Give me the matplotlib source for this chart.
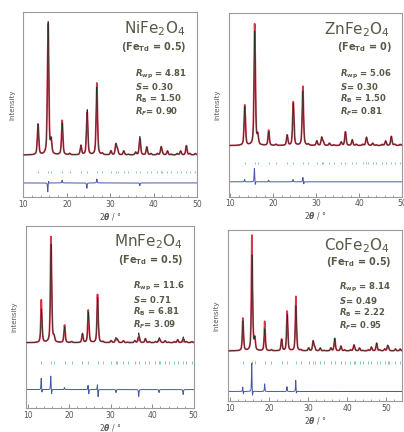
import matplotlib
matplotlib.use('Agg')
import matplotlib.pyplot as plt
import numpy as np
from matplotlib.ticker import MultipleLocator

plt.rcParams['font.family'] = ['DejaVu Sans']
plt.rcParams['mathtext.fontset'] = 'custom'
plt.rcParams['mathtext.default'] = 'regular'
plt.rcParams['mathtext.rm'] = 'DejaVu Sans:bold'
plt.rcParams['mathtext.it'] = 'DejaVu Sans:italic:bold'
plt.rcParams['mathtext.bf'] = 'DejaVu Sans:bold'

# Bragg reflection positions of the spinel phase (2theta / deg)
bragg_pos = [13.36, 15.68, 16.38, 18.93, 20.65, 23.24, 24.67, 26.90, 28.16, 30.15,
             31.29, 31.66, 33.10, 34.15, 35.84, 36.82, 38.41, 39.34, 40.84, 41.72,
             42.01, 43.16, 44.00, 45.38, 46.19, 47.52, 48.30, 49.58, 50.35, 50.60,
             52.33, 53.55]

# calculated peak heights (relative to the strongest reflection)
ni_calc = [0.23, 1.0, 0.10, 0.24, 0.01, 0.07, 0.34, 0.51, 0.01, 0.03,
           0.08, 0.04, 0.03, 0.005, 0.02, 0.14, 0.06, 0.01, 0.01, 0.06,
           0.01, 0.03, 0.005, 0.01, 0.03, 0.07, 0.01, 0.01, 0.01, 0.01,
           0.02, 0.02]
zn_calc = [0.34, 1.0, 0.08, 0.12, 0.01, 0.09, 0.37, 0.48, 0.01, 0.04,
           0.07, 0.03, 0.02, 0.005, 0.03, 0.12, 0.05, 0.01, 0.01, 0.07,
           0.01, 0.02, 0.005, 0.01, 0.04, 0.08, 0.01, 0.01, 0.01, 0.01,
           0.02, 0.02]
mn_calc = [0.34, 1.0, 0.05, 0.16, 0.01, 0.09, 0.31, 0.46, 0.01, 0.02,
           0.05, 0.03, 0.02, 0.005, 0.02, 0.10, 0.04, 0.01, 0.01, 0.05,
           0.01, 0.02, 0.005, 0.01, 0.03, 0.06, 0.01, 0.01, 0.01, 0.01,
           0.02, 0.02]
co_calc = [0.31, 1.0, 0.12, 0.23, 0.01, 0.12, 0.38, 0.47, 0.01, 0.03,
           0.10, 0.04, 0.03, 0.005, 0.03, 0.13, 0.05, 0.01, 0.01, 0.06,
           0.01, 0.03, 0.005, 0.01, 0.04, 0.08, 0.01, 0.02, 0.05, 0.02,
           0.02, 0.02]

# observed - calculated features (position, amplitude)
ni_diff_pos = [15.60, 15.75, 18.90, 24.60, 26.90, 36.80]
ni_diff_amp = [-0.07, 0.02, 0.02, -0.04, 0.03, -0.02]
zn_diff_pos = [13.30, 15.60, 15.80, 18.90, 24.60, 26.90, 27.10]
zn_diff_amp = [0.02, 0.12, -0.03, 0.015, 0.02, 0.04, -0.02]
mn_diff_pos = [13.30, 13.45, 15.60, 15.80, 18.90, 24.60, 24.75, 26.85, 27.00,
               31.30, 36.80, 41.70, 47.50]
mn_diff_amp = [0.12, -0.04, 0.14, -0.05, 0.02, 0.05, -0.05, 0.06, -0.08,
               -0.03, -0.07, -0.03, -0.05]
co_diff_pos = [13.30, 13.45, 15.60, 15.80, 18.90, 24.60, 26.85, 27.00]
co_diff_amp = [0.05, -0.03, 0.30, -0.06, 0.08, 0.05, 0.12, -0.03]

names = ['NiFe$_2$O$_4$', 'ZnFe$_2$O$_4$', 'MnFe$_2$O$_4$', 'CoFe$_2$O$_4$']
fe_td = ['0.5', '0', '0.5', '0.5']
r_wp = ['4.81', '5.06', '11.6', '8.14']
s_val = ['0.30', '0.30', '0.71', '0.49']
r_b = ['1.50', '1.50', '6.81', '2.22']
r_f = ['0.90', '0.81', '3.09', '0.95']

calcs = [ni_calc, zn_calc, mn_calc, co_calc]
diff_pos = [ni_diff_pos, zn_diff_pos, mn_diff_pos, co_diff_pos]
diff_amp = [ni_diff_amp, zn_diff_amp, mn_diff_amp, co_diff_amp]

# layout of each panel
positions = [[0.058, 0.544, 0.430, 0.428],
             [0.566, 0.545, 0.429, 0.426],
             [0.064, 0.056, 0.416, 0.422],
             [0.564, 0.072, 0.431, 0.396]]
xlims = [(10, 50), (9.6, 50), (9.6, 50.1), (9.5, 54)]
base = [0.227, 0.277, 0.357, 0.292]
scale = [0.72, 0.62, 0.54, 0.56]
tick_y = [0.135, 0.183, 0.25, 0.224]
diff_y = [0.076, 0.08, 0.10, 0.055]

txt_col = '#5a5848'


def profile(x, pos, amp, fwhm):
    y = np.zeros_like(x)
    for p, a in zip(pos, amp):
        g = np.exp(-4 * np.log(2) * ((x - p) / fwhm) ** 2)
        l = 1 / (1 + 4 * ((x - p) / fwhm) ** 2)
        y += a * (0.5 * g + 0.5 * l)
    return y


fig = plt.figure(figsize=(4.04, 4.32), dpi=100)

for i in range(4):
    ax = fig.add_axes(positions[i])
    x = np.linspace(xlims[i][0], xlims[i][1], 3000)
    calc = profile(x, bragg_pos, calcs[i], 0.38)
    diff = profile(x, diff_pos[i], diff_amp[i], 0.16)
    obs = calc + diff

    ax.plot(x, base[i] + scale[i] * obs, color='#d43a4a', lw=1.25, zorder=2)
    ax.plot(x, base[i] + scale[i] * calc, color='#22302c', lw=0.5, zorder=3)
    ax.vlines(bragg_pos, tick_y[i] - 0.007, tick_y[i] + 0.007, color='#6cc496', lw=0.6)
    ax.plot(x, diff_y[i] + scale[i] * diff, color='#4656b0', lw=0.7)

    ax.set_xlim(xlims[i])
    ax.set_ylim(0, 1)
    ax.set_yticks([])
    ax.xaxis.set_major_locator(MultipleLocator(10))
    ax.xaxis.set_minor_locator(MultipleLocator(2))
    ax.tick_params(axis='x', which='major', direction='in', length=3, width=0.6,
                   colors='#777777', labelsize=5.5, labelcolor='#555555', pad=2)
    ax.tick_params(axis='x', which='minor', direction='in', length=1.5, width=0.5,
                   colors='#777777')
    for sp in ax.spines.values():
        sp.set_color('#9a9a9a')
        sp.set_linewidth(0.8)
    ax.set_xlabel(r'2$\mathit{\theta}$ / °', fontsize=5.5, color='#555555', labelpad=1.5)
    ax.set_ylabel('Intensity', fontsize=5, color='#555555', labelpad=6)

    ax.text(0.93, 0.96, names[i], transform=ax.transAxes, ha='right', va='top',
            fontsize=11, color=txt_col)
    ax.text(0.94, 0.81, '(Fe$_{Td}$ = ' + fe_td[i] + ')', transform=ax.transAxes,
            ha='right', va='center', fontsize=7, fontweight='bold', color=txt_col)
    lines = [r'$\mathit{R}_{wp}$ = ' + r_wp[i],
             r'$\mathit{S}$= ' + s_val[i],
             r'$\mathit{R}_{B}$ = ' + r_b[i],
             r'$\mathit{R}_{\mathit{F}}$= ' + r_f[i]]
    ax.text(0.64, 0.70, '\n'.join(lines), transform=ax.transAxes, ha='left',
            va='top', fontsize=6.1, fontweight='bold', color=txt_col,
            linespacing=1.05)

fig.savefig('out.png', dpi=100)
